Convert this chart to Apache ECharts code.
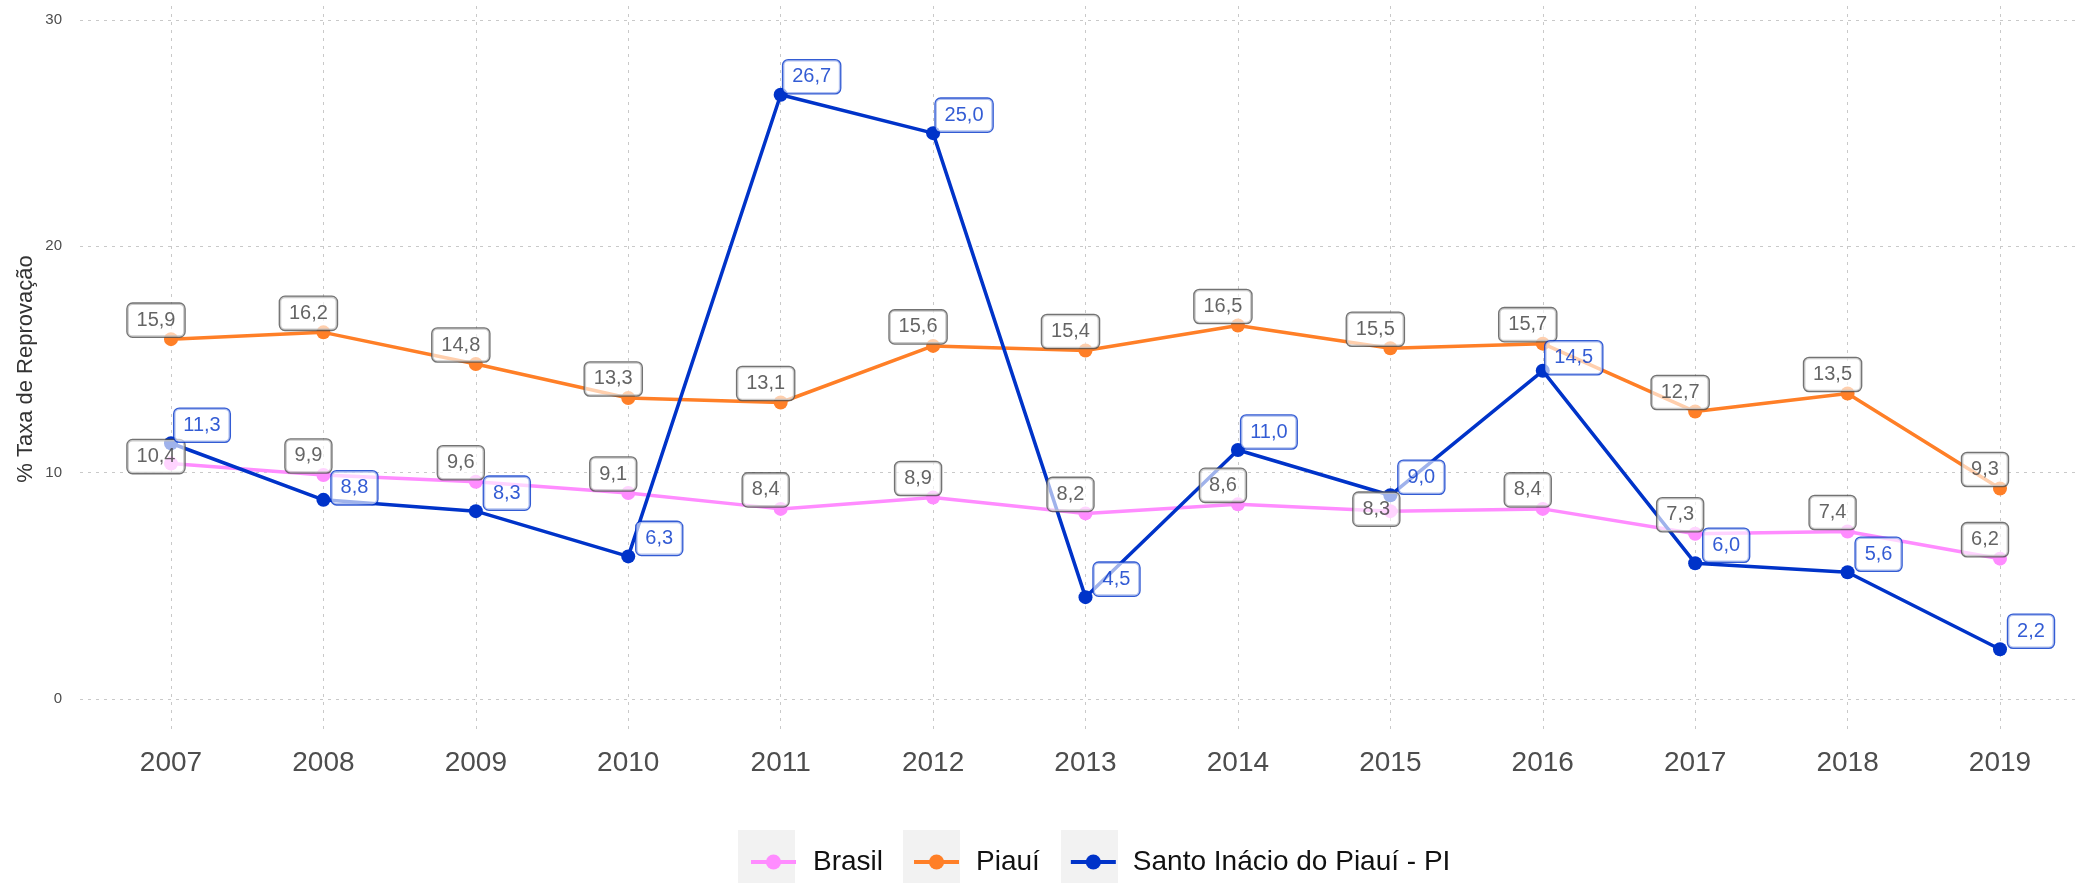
<!DOCTYPE html>
<html lang="pt-BR">
<head>
<meta charset="utf-8">
<title>Taxa de Reprovação</title>
<script src="https://cdn.jsdelivr.net/npm/echarts@6/dist/echarts.min.js"></script>
<style>
  html, body { margin: 0; padding: 0; background: #ffffff; }
  #chart { width: 2080px; height: 883px; }
</style>
</head>
<body>
<div id="chart"></div>
<script>
// Anos e taxas de reprovação (%)
const anos = ['2007', '2008', '2009', '2010', '2011', '2012', '2013', '2014', '2015', '2016', '2017', '2018', '2019'];
const brasil = [10.4, 9.9, 9.6, 9.1, 8.4, 8.9, 8.2, 8.6, 8.3, 8.4, 7.3, 7.4, 6.2];
const piaui = [15.9, 16.2, 14.8, 13.3, 13.1, 15.6, 15.4, 16.5, 15.5, 15.7, 12.7, 13.5, 9.3];
const santoInacio = [11.3, 8.8, 8.3, 6.3, 26.7, 25.0, 4.5, 11.0, 9.0, 14.5, 6.0, 5.6, 2.2];

const nomes = ['Brasil', 'Piauí', 'Santo Inácio do Piauí - PI'];
const valores = [brasil, piaui, santoInacio];
const cores = ['#ff8cff', '#ff7f27', '#0033c9'];

// Deslocamento das etiquetas em relação ao ponto (px)
const deslocPadrao = [[-15, -19], [-15, -19], [31, -18]];
const deslocEspecial = [
  { '2007': [-15, -7], '2015': [-14, -2] },
  {},
  { '2008': [31, -12], '2016': [31, -13] }
];

const fonte = "'Liberation Sans', Arial, Helvetica, sans-serif";
const fmt = v => v.toFixed(1).replace('.', ',');

const linhaGrade = { show: true, lineStyle: { color: '#c9c9c9', width: 1, type: [3, 5] } };

const chart = echarts.init(document.getElementById('chart'), null, { renderer: 'canvas' });

const series = [];
// Linhas com pontos
valores.forEach((vals, i) => {
  series.push({
    name: nomes[i],
    type: 'line',
    xAxisIndex: 2,
    yAxisIndex: 2,
    data: vals,
    symbol: 'circle',
    symbolSize: 14,
    showSymbol: true,
    color: cores[i],
    lineStyle: { width: 3.5, color: cores[i] },
    itemStyle: { color: cores[i] },
    z: 3,
    animation: false
  });
});
// Etiquetas de valor, desenhadas acima de todas as linhas
valores.forEach((vals, i) => {
  const azul = i === 2;
  series.push({
    name: nomes[i] + ' (valores)',
    type: 'scatter',
    xAxisIndex: 2,
    yAxisIndex: 2,
    symbolSize: 0,
    silent: true,
    z: 10,
    animation: false,
    data: vals.map((v, k) => ({
      value: v,
      label: { offset: deslocEspecial[i][anos[k]] || deslocPadrao[i] }
    })),
    label: {
      show: true,
      position: 'inside',
      formatter: p => fmt(p.value),
      fontFamily: fonte,
      fontSize: 20,
      color: azul ? cores[2] : '#3d3d3d',
      backgroundColor: 'rgba(255,255,255,0.78)',
      borderColor: azul ? cores[2] : '#505050',
      borderWidth: 1.3,
      borderRadius: 5,
      padding: [7, 9, 6, 9]
    }
  });
});

const option = {
  backgroundColor: '#ffffff',
  animation: false,
  textStyle: { fontFamily: fonte },
  grid: [
    // grade horizontal e rótulos do eixo y
    { left: 80, right: 0, top: 20, bottom: 184 },
    // grade vertical, rótulos dos anos e título do eixo y
    { left: 171, right: 80, top: 6, bottom: 151 },
    // área dos dados
    { left: 171, right: 80, top: 20, bottom: 184 }
  ],
  xAxis: [
    { gridIndex: 0, type: 'value', show: false, min: 0, max: 1 },
    {
      gridIndex: 1, type: 'category', data: anos, boundaryGap: false,
      axisLine: { show: false }, axisTick: { show: false },
      axisLabel: { fontSize: 28, color: '#4d4d4d', margin: 17, fontFamily: fonte },
      splitLine: linhaGrade
    },
    { gridIndex: 2, type: 'category', data: anos, boundaryGap: false, show: false }
  ],
  yAxis: [
    {
      gridIndex: 0, type: 'value', min: 0, max: 30, interval: 10,
      axisLine: { show: false }, axisTick: { show: false },
      axisLabel: { fontSize: 15, color: '#4d4d4d', margin: 18, fontFamily: fonte },
      splitLine: linhaGrade
    },
    {
      gridIndex: 1, type: 'value', min: 0, max: 1,
      name: '% Taxa de Reprovação',
      nameLocation: 'middle',
      nameGap: 134,
      nameTextStyle: { fontSize: 22, color: '#333333', fontFamily: fonte },
      axisLine: { show: false }, axisTick: { show: false },
      axisLabel: { show: false }, splitLine: { show: false }
    },
    { gridIndex: 2, type: 'value', show: false, min: 0, max: 30, splitLine: { show: false } }
  ],
  legend: {
    data: nomes,
    left: 744,
    top: 843,
    orient: 'horizontal',
    itemWidth: 45,
    itemHeight: 19,
    itemGap: 29,
    selectedMode: false,
    lineStyle: { width: 4 },
    textStyle: { fontSize: 28, color: '#111111', fontFamily: fonte, padding: [0, 0, 0, 12] }
  },
  graphic: [
    { type: 'rect', z: -1, silent: true, shape: { x: 738, y: 830, width: 57, height: 60 }, style: { fill: '#f2f2f2' } },
    { type: 'rect', z: -1, silent: true, shape: { x: 903, y: 830, width: 57, height: 60 }, style: { fill: '#f2f2f2' } },
    { type: 'rect', z: -1, silent: true, shape: { x: 1061, y: 830, width: 57, height: 60 }, style: { fill: '#f2f2f2' } }
  ],
  series: series
};

chart.setOption(option);
</script>
</body>
</html>
